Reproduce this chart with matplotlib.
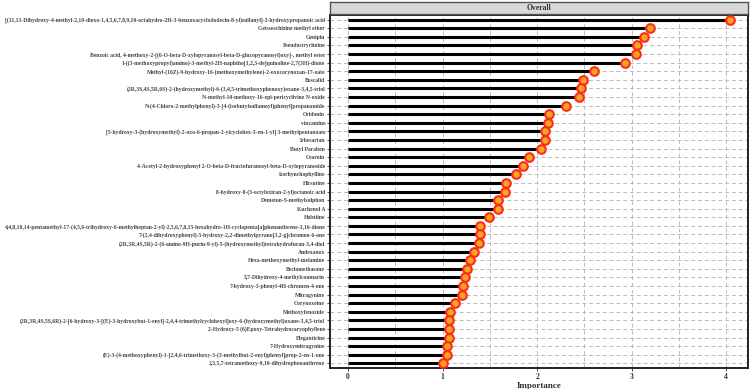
import matplotlib
matplotlib.use("Agg")
import matplotlib.pyplot as plt

compounds = [
    "[(11,13-Dihydroxy-4-methyl-2,10-dioxo-1,4,5,6,7,8,9,10-octahydro-2H-3-benzoxacyclododecin-8-yl)sulfanyl]-2-hydroxypropanoic acid",
    "Geissoschizine methyl ether",
    "Genipin",
    "Pseudostrychnine",
    "Benzoic acid, 4-methoxy-2-[(6-O-beta-D-xylopyranosyl-beta-D-glucopyranosyl)oxy]-, methyl ester",
    "1-((3-methoxypropyl)amino)-3-methyl-2H-naphtho[1,2,3-de]quinoline-2,7(3H)-dione",
    "Methyl-(16Z)-9-hydroxy-16-(methoxymethylene)-2-oxocorynoxan-17-oate",
    "Boscalid",
    "(2R,3S,4S,5R,6S)-2-(hydroxymethyl)-6-(3,4,5-trimethoxyphenoxy)oxane-3,4,5-triol",
    "N-methyl-10-methoxy-16-epi-pericyclivine N-oxide",
    "N-(4-Chloro-2-methylphenyl)-3-[4-(isobutylsulfamoyl)phenyl]propanamide",
    "Oridonin",
    "vincamine",
    "[5-hydroxy-3-(hydroxymethyl)-2-oxo-6-propan-2-ylcyclohex-3-en-1-yl] 3-methylpentanoate",
    "Irbesartan",
    "Butyl Paraben",
    "Cearoin",
    "4-Acetyl-2-hydroxyphenyl 2-O-beta-D-fructofuranosyl-beta-D-xylopyranoside",
    "Isorhynchophylline",
    "Hirsutine",
    "8-hydroxy-8-(3-octyloxiran-2-yl)octanoic acid",
    "Demeton-S-methylsulphon",
    "Kuchenol A",
    "Holstiine",
    "4,4,8,10,14-pentamethyl-17-(4,5,6-trihydroxy-6-methylheptan-2-yl)-2,5,6,7,8,15-hexahydro-1H-cyclopenta[a]phenanthrene-3,16-dione",
    "7-(2,4-dihydroxyphenyl)-5-hydroxy-2,2-dimethylpyrano[3,2-g]chromen-6-one",
    "(2R,3R,4S,5R)-2-(6-amino-9H-purin-9-yl)-5-(hydroxymethyl)tetrahydrofuran-3,4-diol",
    "Amlexanox",
    "Hexa-methoxymethyl-melamine",
    "Beclomethasone",
    "5,7-Dihydroxy-4-methylcoumarin",
    "7-hydroxy-3-phenyl-4H-chromen-4-one",
    "Mitragynine",
    "Corynoxeine",
    "Methoxyfenozide",
    "(2R,3R,4S,5S,6R)-2-[6-hydroxy-3-[(E)-3-hydroxybut-1-enyl]-2,4,4-trimethylcyclohexyl]oxy-6-(hydroxymethyl)oxane-3,4,5-triol",
    "2-Hydroxy-5 (6)Epoxy-Tetrahydrocaryophyllene",
    "Eleganticine",
    "7-Hydroxymitragynine",
    "(E)-3-(4-methoxyphenyl)-1-[2,4,6-trimethoxy-3-(3-methylbut-2-enyl)phenyl]prop-2-en-1-one",
    "2,3,5,7-tetramethoxy-9,10-dihydrophenanthrene",
]
importance = [4.04, 3.19, 3.13, 3.055, 3.05, 2.93, 2.60, 2.49, 2.46, 2.44,
              2.31, 2.13, 2.12, 2.08, 2.08, 2.04, 1.91, 1.85, 1.78, 1.67,
              1.66, 1.59, 1.59, 1.49, 1.40, 1.40, 1.39, 1.33, 1.29, 1.26,
              1.24, 1.22, 1.21, 1.13, 1.08, 1.07, 1.07, 1.07, 1.05, 1.05,
              1.01]
x_ticks = [0, 1, 2, 3, 4]

plt.rcParams['font.family'] = ['Liberation Serif', 'DejaVu Serif']
plt.rcParams['font.weight'] = 'bold'

fig = plt.figure(figsize=(7.5, 3.89), dpi=100)
ax = fig.add_axes([330/750, 1-368/389, 418/750, 353/389])

n = len(compounds)
ypos = list(range(n))[::-1]

# dashed grid
for y in ypos:
    ax.axhline(y, color='#bbbbbb', lw=0.7, ls=(0, (4, 3)), zorder=0)
for xv in [0, 0.5, 1, 1.5, 2, 2.5, 3, 3.5, 4]:
    ax.axvline(xv, color='#bbbbbb', lw=0.7, ls=(0, (4, 3)), zorder=0)

ax.hlines(ypos, 0, importance, color='black', lw=2.2, zorder=2)
ax.plot(importance, ypos, 'o', ms=6.2, mfc='#f5a623', mec='#ff2a1a', mew=1.5, zorder=3)

ax.set_xlim(-0.19, 4.23)
ax.set_ylim(-0.55, n - 0.45)
ax.set_yticks(ypos)
ax.set_yticklabels(compounds, fontsize=4.1, fontweight='bold', color='#444444')
ax.set_xticks(x_ticks)
ax.set_xticklabels([str(t) for t in x_ticks], fontsize=5.5, fontweight='bold', color='#333333')
ax.tick_params(axis='y', length=2, width=0.6, pad=1.5, color='#333333')
ax.tick_params(axis='x', length=2, width=0.6, pad=1.5, color='#333333')
ax.set_xlabel('Importance', fontsize=6.5, fontweight='bold', labelpad=1, color='#333333')
for s in ax.spines.values():
    s.set_linewidth(1.4)
    s.set_color('#222222')

# facet strip
sax = fig.add_axes([330/750, 1-14/389, 418/750, 12/389])
sax.set_xticks([])
sax.set_yticks([])
sax.set_facecolor('#d9d9d9')
for s in sax.spines.values():
    s.set_linewidth(1.0)
    s.set_color('#555555')
sax.text(0.5, 0.5, 'Overall', ha='center', va='center', fontsize=5.5,
         fontweight='bold', color='#333333', transform=sax.transAxes)

fig.savefig('out.png', dpi=100)
